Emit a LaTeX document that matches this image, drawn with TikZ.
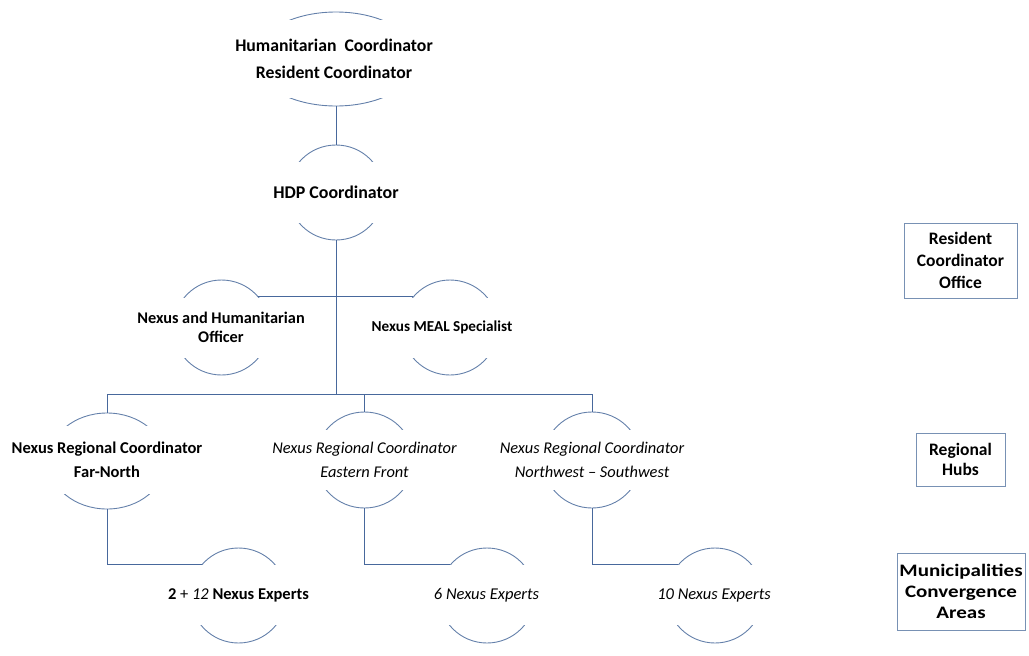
\documentclass[tikz,border=0pt]{standalone}
\usepackage{fontspec}
\setmainfont{Carlito}
\usetikzlibrary{shapes.geometric}
\definecolor{arccol}{RGB}{100,128,170}
\definecolor{linecol}{RGB}{72,104,156}
\definecolor{boxcol}{RGB}{120,145,180}
\tikzset{
  oval/.style={ellipse, draw=arccol, line width=0.9pt, inner sep=0pt},
  band/.style={fill=white, inner sep=0pt, align=center},
  conn/.style={draw=linecol, line width=0.9pt},
  sidebox/.style={draw=boxcol, line width=0.9pt, fill=white, align=center, inner sep=0pt}
}
\newcommand{\wide}[1]{\scalebox{1.2}[1]{#1}}
\begin{document}
\begin{tikzpicture}[x=1pt,y=-1pt]
\useasboundingbox (0,0) rectangle (1029,656);
% ovals
\node[oval, minimum width=164, minimum height=94] (hc) at (336,59) {};
\node[oval, minimum width=96, minimum height=95] (hdp) at (336,192.5) {};
\node[oval, minimum width=96, minimum height=95] (nho) at (221.5,327.5) {};
\node[oval, minimum width=96, minimum height=95] (meal) at (450,327.5) {};
\node[oval, minimum width=117, minimum height=96] (fn) at (107,461) {};
\node[oval, minimum width=98, minimum height=96] (ef) at (364.5,460) {};
\node[oval, minimum width=98, minimum height=96] (nw) at (592,460) {};
\node[oval, minimum width=96, minimum height=95] (e2) at (238.5,595.5) {};
\node[oval, minimum width=96, minimum height=95] (e6) at (487,595.5) {};
\node[oval, minimum width=96, minimum height=95] (e10) at (715,595.5) {};
% texts
\node[band, minimum width=172, minimum height=78, font=\fontsize{17.7}{27}\selectfont\bfseries] (hcT) at (334,59) {Humanitarian\ \ Coordinator\\Resident Coordinator};
\node[band, minimum width=104, minimum height=61, font=\fontsize{17.9}{21}\selectfont\bfseries] (hdpT) at (336,192.5) {HDP Coordinator};
\node[band, minimum width=104, minimum height=60, font=\fontsize{16.3}{19}\selectfont\bfseries] (nhoT) at (221,327.5) {Nexus and Humanitarian\\Officer};
\node[band, minimum width=120, minimum height=60, font=\fontsize{15.2}{19}\selectfont\bfseries] (mealT) at (442,327.5) {Nexus MEAL Specialist};
\node[band, minimum width=124, minimum height=68, font=\fontsize{16.5}{24}\selectfont\bfseries] (fnT) at (107,460) {Nexus Regional Coordinator\\Far-North};
\node[band, minimum width=106, minimum height=60, font=\fontsize{16.4}{24}\selectfont\itshape] (efT) at (364.5,460) {Nexus Regional Coordinator\\Eastern Front};
\node[band, minimum width=106, minimum height=60, font=\fontsize{16.4}{24}\selectfont\itshape] (nwT) at (592,460) {Nexus Regional Coordinator\\Northwest -- Southwest};
\node[band, minimum width=104, minimum height=60, font=\fontsize{16.5}{20}\selectfont] (e2T) at (238.5,595) {\textbf{2} + \textit{12} \textbf{Nexus Experts}};
\node[band, minimum width=104, minimum height=60, font=\fontsize{16.5}{20}\selectfont\itshape] (e6T) at (486.5,595) {6 Nexus Experts};
\node[band, minimum width=104, minimum height=60, font=\fontsize{16.5}{20}\selectfont\itshape] (e10T) at (714,595) {10 Nexus Experts};
% side boxes
\node[sidebox, minimum width=113, minimum height=75, font=\fontsize{17.5}{22}\selectfont\bfseries] (rco) at (960.5,260.5) {Resident\\Coordinator\\Office};
\node[sidebox, minimum width=89, minimum height=53, font=\fontsize{17.5}{20}\selectfont\bfseries] (rh) at (960.5,459.5) {Regional\\Hubs};
\node[sidebox, minimum width=128, minimum height=77, font=\fontsize{17.5}{21}\selectfont\bfseries] (mca) at (961,591.5) {\wide{Municipalities}\\\wide{Convergence}\\\wide{Areas}};
% connectors
\coordinate (bus) at (336,394);
\draw[conn] (hc.south) -- (hdp.north);
\draw[conn] (hdp.south) -- (bus);
\draw[conn] (nho.40) -- (meal.140);
\draw[conn] (fn.north) |- (bus);
\draw[conn] (ef.north) |- (bus);
\draw[conn] (nw.north) |- (bus);
\draw[conn] (fn.south) |- (e2.140);
\draw[conn] (ef.south) |- (e6.140);
\draw[conn] (nw.south) |- (e10.140);
\end{tikzpicture}
\end{document}
